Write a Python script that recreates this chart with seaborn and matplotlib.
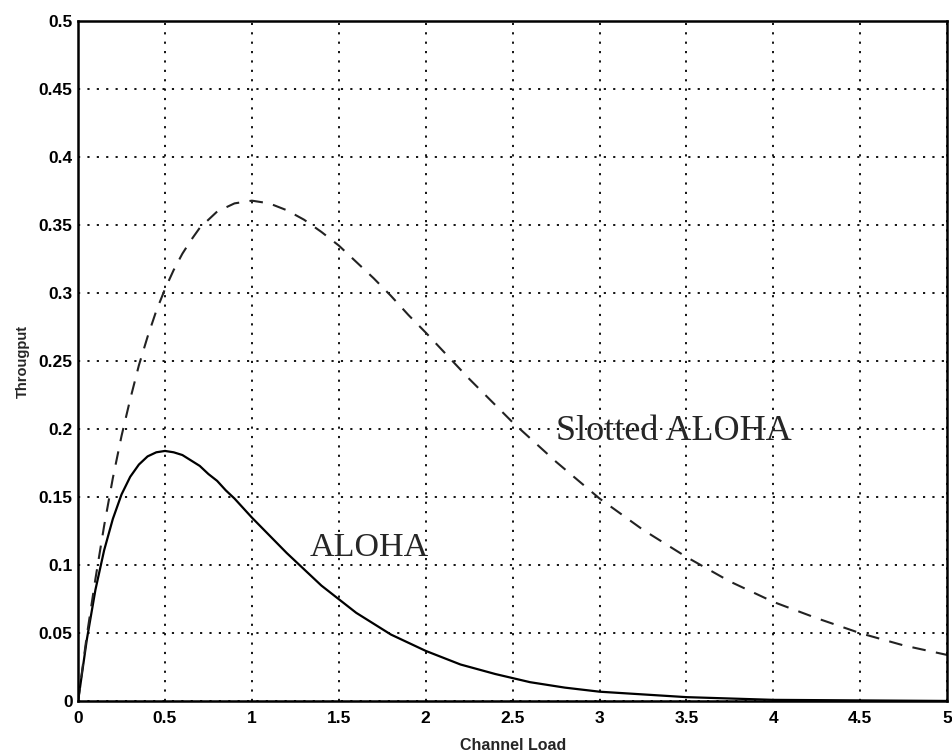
import matplotlib
matplotlib.use("Agg")
import matplotlib.pyplot as plt
import seaborn as sns

# values
aloha_load = [0, 0.05, 0.1, 0.15, 0.2, 0.25, 0.3, 0.35, 0.4, 0.45, 0.5, 0.55, 0.6, 0.65,
              0.7, 0.75, 0.8, 0.85, 0.9, 0.95, 1.0, 1.1, 1.2, 1.3, 1.4, 1.5, 1.6, 1.7,
              1.8, 1.9, 2.0, 2.1, 2.2, 2.4, 2.6, 2.8, 3.0, 3.25, 3.5, 3.75, 4.0, 4.5, 5.0]
aloha_tput = [0, 0.045, 0.082, 0.111, 0.134, 0.152, 0.165, 0.174, 0.180, 0.183, 0.184,
              0.183, 0.181, 0.177, 0.173, 0.167, 0.162, 0.155, 0.149, 0.142, 0.135,
              0.122, 0.109, 0.097, 0.085, 0.075, 0.065, 0.057, 0.049, 0.043, 0.037,
              0.032, 0.027, 0.020, 0.014, 0.010, 0.007, 0.005, 0.003, 0.002, 0.001,
              0.0006, 0.0002]

slotted_load = [0, 0.05, 0.1, 0.15, 0.2, 0.25, 0.3, 0.35, 0.4, 0.45, 0.5, 0.55, 0.6, 0.65,
                0.7, 0.75, 0.8, 0.85, 0.9, 0.95, 1.0, 1.1, 1.2, 1.3, 1.4, 1.5, 1.6, 1.7,
                1.8, 1.9, 2.0, 2.25, 2.5, 2.75, 3.0, 3.25, 3.5, 3.75, 4.0, 4.25, 4.5,
                4.75, 5.0]
slotted_tput = [0, 0.048, 0.090, 0.129, 0.164, 0.195, 0.222, 0.247, 0.268, 0.287, 0.303,
                0.317, 0.329, 0.339, 0.348, 0.354, 0.360, 0.363, 0.366, 0.367, 0.368,
                0.366, 0.361, 0.354, 0.345, 0.335, 0.323, 0.311, 0.298, 0.284, 0.271,
                0.237, 0.205, 0.176, 0.149, 0.126, 0.106, 0.088, 0.073, 0.061, 0.050,
                0.041, 0.034]

x_ticks = [0, 0.5, 1, 1.5, 2, 2.5, 3, 3.5, 4, 4.5, 5]
x_labels = ["0", "0.5", "1", "1.5", "2", "2.5", "3", "3.5", "4", "4.5", "5"]
y_ticks = [0, 0.05, 0.1, 0.15, 0.2, 0.25, 0.3, 0.35, 0.4, 0.45, 0.5]
y_labels = ["0", "0.05", "0.1", "0.15", "0.2", "0.25", "0.3", "0.35", "0.4", "0.45", "0.5"]

sns.set_style("white")
plt.rcParams["font.family"] = ["Liberation Sans", "DejaVu Sans"]

fig = plt.figure(figsize=(9.52, 7.54), dpi=100)
ax = fig.add_axes([0.082, 0.070, 0.913, 0.902])

sns.lineplot(x=aloha_load, y=aloha_tput, ax=ax, color="black", linewidth=1.6)
sns.lineplot(x=slotted_load, y=slotted_tput, ax=ax, color="#222222", linewidth=1.5,
             linestyle=(0, (6.5, 5)))

ax.set_xlim(0, 5)
ax.set_ylim(0, 0.5)
ax.set_xticks(x_ticks)
ax.set_xticklabels(x_labels)
ax.set_yticks(y_ticks)
ax.set_yticklabels(y_labels)
ax.tick_params(direction="in", length=6, width=1.3, colors="black", labelsize=12.5)
ax.tick_params(axis="x", pad=7)
ax.tick_params(axis="y", pad=4)
for lab in ax.get_xticklabels() + ax.get_yticklabels():
    lab.set_fontweight("bold")

ax.grid(True, color="black", linestyle=(0, (1.2, 4)), linewidth=1.3)
for s in ax.spines.values():
    s.set_color("black")
    s.set_linewidth(1.8)

ax.set_xlabel("Channel Load", fontsize=11.5, fontweight="bold", labelpad=9)
ax.set_ylabel("Througput", fontsize=10.5, fontweight="bold", labelpad=6)

ax.text(2.75, 0.198, "Slotted ALOHA", family="Liberation Serif", fontsize=26,
        va="center", ha="left")
ax.text(1.33, 0.113, "ALOHA", family="Liberation Serif", fontsize=24.5,
        va="center", ha="left")

fig.savefig("out.png", dpi=100)
